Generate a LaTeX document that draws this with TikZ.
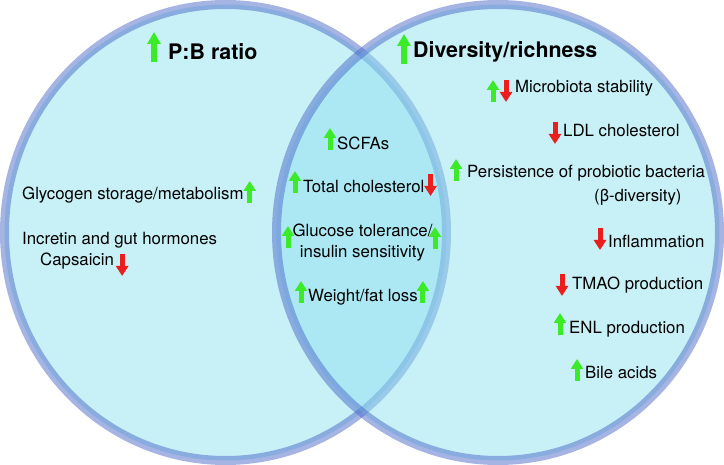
\documentclass[tikz,border=0pt]{standalone}
\usepackage{fontspec}
\setmainfont{TeX Gyre Heros}
\usepackage{xcolor}
\usetikzlibrary{arrows.meta}

\definecolor{vennfill}{RGB}{145,225,240}
\definecolor{vennring}{RGB}{75,105,200}
\definecolor{upgreen}{RGB}{60,235,40}
\definecolor{downred}{RGB}{235,30,30}

\begin{document}
\begin{tikzpicture}[
    x=1pt, y=-1pt,
    venn/.style={fill=vennfill, fill opacity=0.5, draw=vennring, draw opacity=0.5, line width=9pt},
    tick/.style={line width=5pt, -{Triangle[width=12pt,length=10pt]}},
    bigtick/.style={line width=6pt, -{Triangle[width=13pt,length=12pt]}},
    lbl/.style={anchor=west, inner sep=0pt},
    title/.style={lbl, font=\bfseries\fontsize{21.4}{24}\selectfont},
    upmark/.pic={\draw[tick, upgreen] (0,11) -- (0,-11);},
    downmark/.pic={\draw[tick, downred] (0,-11) -- (0,11);},
    bigup/.pic={\draw[bigtick, upgreen] (0,15) -- (0,-15);},
    every node/.style={font=\fontsize{16.8}{21}\selectfont}
  ]
    \useasboundingbox (0,0) rectangle (724,465);
    % the two sets
    \path[venn] (225.5,232.5) ellipse [x radius=221pt, y radius=228pt];
    \path[venn] (498,232.5) ellipse [x radius=221.5pt, y radius=228pt];

    % left set
    \node[title] (pb) at (168,52) {P:B ratio};
    \pic at (154,47) {bigup};
    \node[lbl] (glyc) at (22,195) {Glycogen storage/metabolism};
    \pic at ([xshift=6pt,yshift=3pt]glyc.east) {upmark};
    \node[lbl] (incr) at (22,240) {Incretin and gut hormones};
    \node[lbl] (caps) at (40,261) {Capsaicin};
    \pic at ([xshift=8pt,yshift=-4pt]caps.east) {downmark};

    % overlap
    \node[lbl] (scfa) at (337,143) {SCFAs};
    \pic at ([xshift=-7pt,yshift=4pt]scfa.west) {upmark};
    \node[lbl] (tchol) at (303,187) {Total cholesterol};
    \pic at ([xshift=-8pt,yshift=5pt]tchol.west) {upmark};
    \pic at ([xshift=6pt,yshift=2pt]tchol.east) {downmark};
    \node[align=center, inner sep=0pt] (gluc) at (362.5,242.5) {Glucose tolerance/\\insulin sensitivity};
    \pic at (288,237) {upmark};
    \pic at (435,238) {upmark};
    \node[lbl] (wt) at (308,297) {Weight/fat loss};
    \pic at ([xshift=-7pt,yshift=5pt]wt.west) {upmark};
    \pic at ([xshift=5pt,yshift=5pt]wt.east) {upmark};

    % right set
    \node[title] (div) at (413,52) {Diversity/richness};
    \pic at (404,49) {bigup};
    \node[lbl] (micro) at (515,88) {Microbiota stability};
    \pic at (493,91) {upmark};
    \pic at (506,91) {downmark};
    \node[lbl] (ldl) at (563,131) {LDL cholesterol};
    \pic at ([xshift=-8pt,yshift=-2pt]ldl.west) {downmark};
    \node[lbl] (pers) at (467,173) {Persistence of probiotic bacteria};
    \pic at ([xshift=-11pt,yshift=3pt]pers.west) {upmark};
    \node[lbl] (beta) at (594,197) {(β-diversity)};
    \node[lbl] (infl) at (608,241) {Inflammation};
    \pic at ([xshift=-8pt,yshift=2pt]infl.west) {downmark};
    \node[lbl] (tmao) at (572,285) {TMAO production};
    \pic at ([xshift=-10pt]tmao.west) {downmark};
    \node[lbl] (enl) at (569,329) {ENL production};
    \pic at ([xshift=-9pt,yshift=5pt]enl.west) {upmark};
    \node[lbl] (bile) at (585,373) {Bile acids};
    \pic at ([xshift=-8pt,yshift=3pt]bile.west) {upmark};
  \end{tikzpicture}
\end{document}
